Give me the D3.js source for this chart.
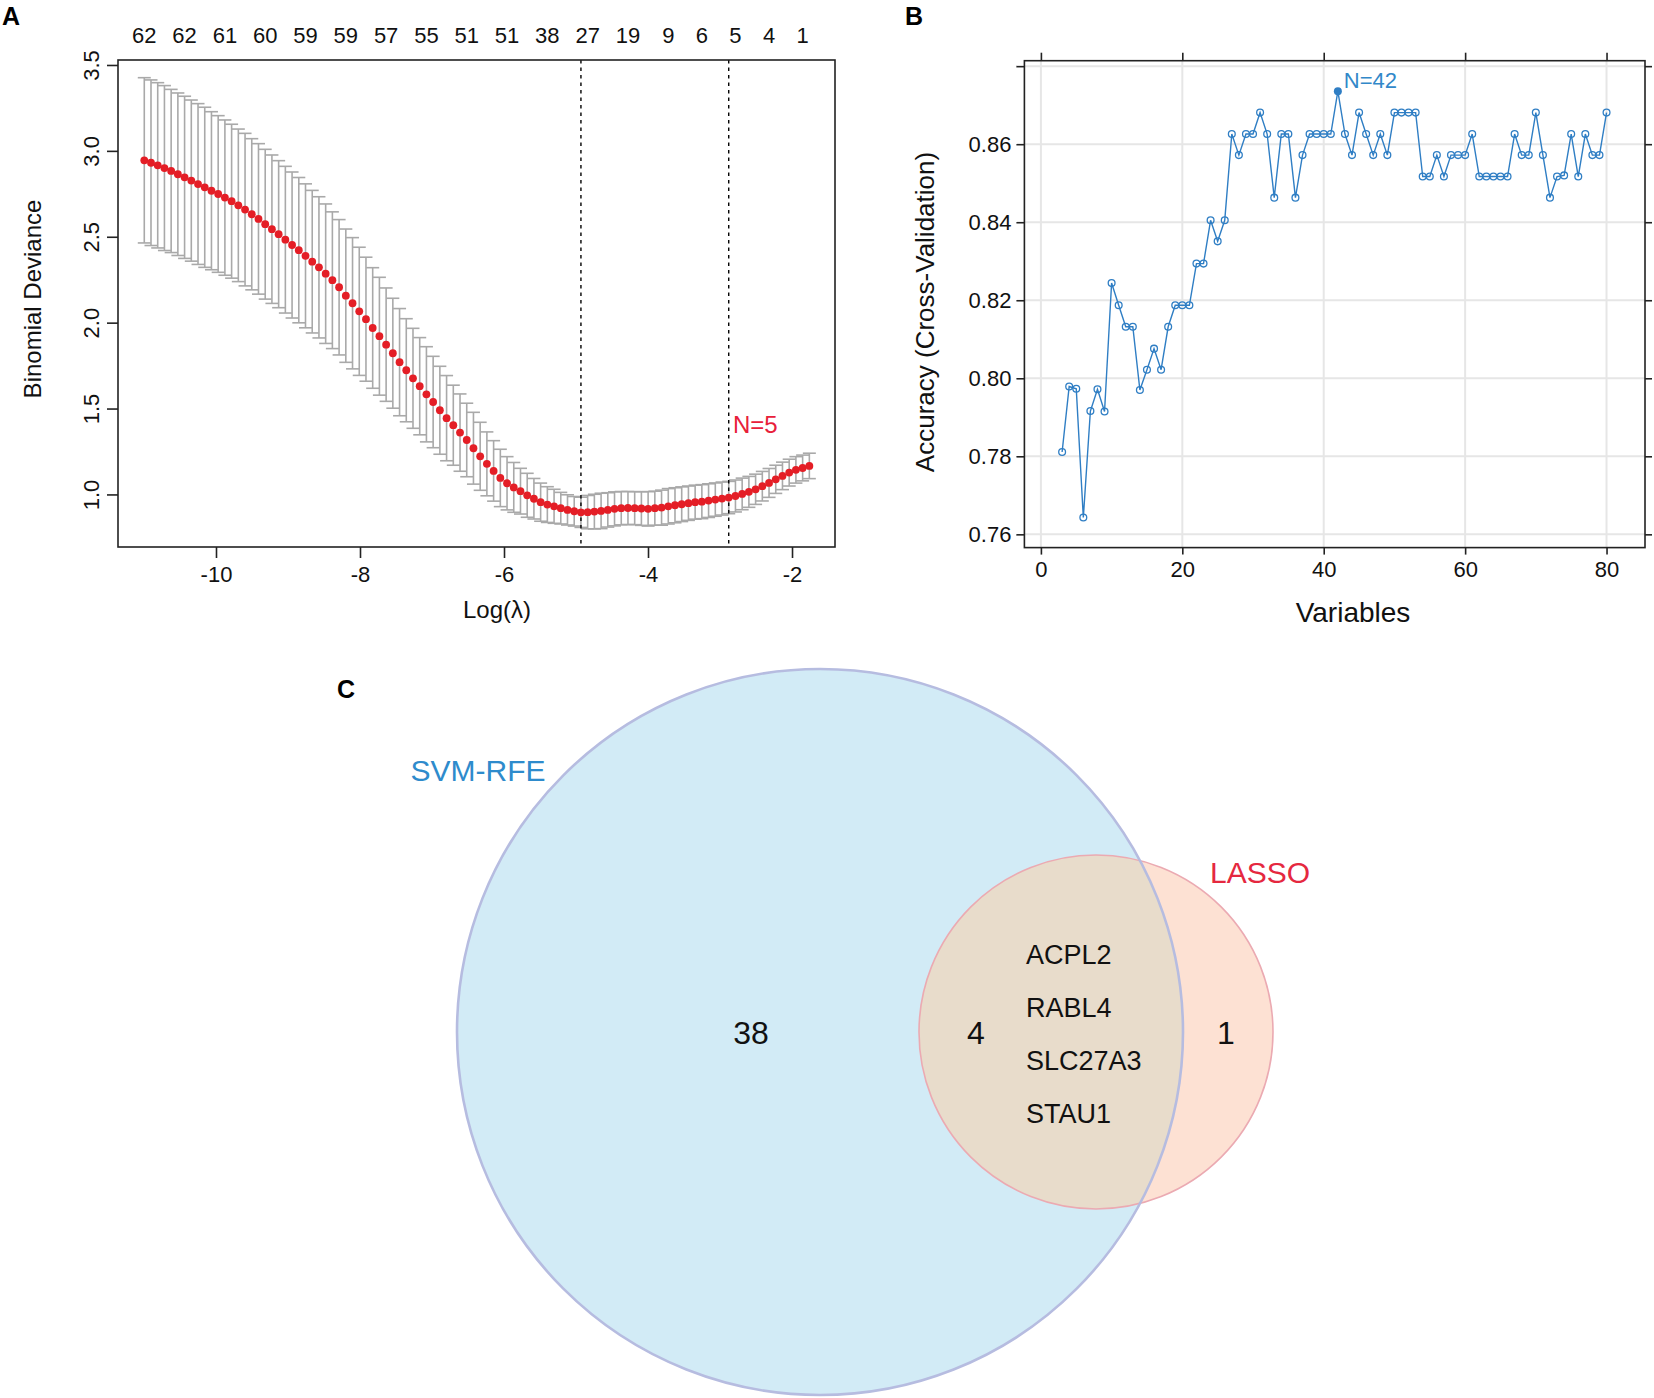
<!DOCTYPE html>
<html>
<head>
<meta charset="utf-8">
<title>LASSO / SVM-RFE / Venn</title>
<script src="https://cdn.jsdelivr.net/npm/d3@7"></script>
<style>
  body { margin: 0; background: #fff; }
  text { font-family: "Liberation Sans", Arial, Helvetica, sans-serif; }
</style>
</head>
<body>
<script>
// ---- panel A: cv.glmnet curve (100 lambdas) ----
const lambdaStart = -10.996;   // log(lambda) of first fit
const lambdaStep = 0.0933;     // spacing of the log(lambda) grid
const cvm = [
  2.945, 2.931, 2.916, 2.900, 2.883, 2.864, 2.846, 2.827, 2.807, 2.788,
  2.768, 2.749, 2.728, 2.707, 2.683, 2.658, 2.631, 2.604, 2.573, 2.544,
  2.515, 2.483, 2.452, 2.422, 2.389, 2.355, 2.322, 2.285, 2.247, 2.206,
  2.157, 2.113, 2.066, 2.020, 1.969, 1.921, 1.872, 1.822, 1.770, 1.723,
  1.676, 1.630, 1.583, 1.538, 1.490, 1.444, 1.403, 1.360, 1.317, 1.269,
  1.222, 1.178, 1.137, 1.096, 1.065, 1.041, 1.019, 0.995, 0.975, 0.955,
  0.941, 0.931, 0.920, 0.910, 0.902, 0.896, 0.897, 0.900, 0.904, 0.910,
  0.916, 0.920, 0.921, 0.920, 0.918, 0.916, 0.920, 0.923, 0.931, 0.937,
  0.943, 0.949, 0.955, 0.958, 0.964, 0.970, 0.976, 0.982, 0.991, 1.003,
  1.015, 1.030, 1.048, 1.067, 1.088, 1.108, 1.127, 1.143, 1.154, 1.166];
const cvsd = [
  0.481, 0.482, 0.481, 0.480, 0.475, 0.473, 0.472, 0.469, 0.468, 0.466,
  0.460, 0.456, 0.452, 0.448, 0.444, 0.444, 0.440, 0.438, 0.436, 0.432,
  0.428, 0.427, 0.425, 0.423, 0.419, 0.415, 0.411, 0.406, 0.398, 0.394,
  0.388, 0.382, 0.373, 0.361, 0.351, 0.343, 0.330, 0.320, 0.312, 0.300,
  0.291, 0.283, 0.277, 0.266, 0.256, 0.248, 0.233, 0.225, 0.214, 0.209,
  0.198, 0.186, 0.176, 0.167, 0.155, 0.145, 0.133, 0.128, 0.118, 0.111,
  0.104, 0.099, 0.092, 0.088, 0.086, 0.088, 0.097, 0.101, 0.103, 0.100,
  0.099, 0.097, 0.096, 0.096, 0.098, 0.100, 0.099, 0.102, 0.103, 0.102,
  0.101, 0.100, 0.099, 0.099, 0.098, 0.097, 0.096, 0.094, 0.093, 0.092,
  0.090, 0.088, 0.086, 0.084, 0.082, 0.080, 0.078, 0.077, 0.075, 0.074];
// number of nonzero coefficients shown on top axis (index into lambda grid, 1-based)
const nzeroIdx = [1, 7, 13, 19, 25, 31, 37, 43, 49, 55, 61, 67, 73, 79, 84, 89, 94, 99];
const nzeroLab = [62, 62, 61, 60, 59, 59, 57, 55, 51, 51, 38, 27, 19, 9, 6, 5, 4, 1];
const idxMin = 66, idx1se = 88;
const ticksA_x = [-10, -8, -6, -4, -2];
const ticksA_y = [1.0, 1.5, 2.0, 2.5, 3.0, 3.5];

// ---- panel B: SVM-RFE accuracy ----
const nVars = d3.range(3, 81);
const accuracy = [
  0.7811, 0.7979, 0.7973, 0.7643, 0.7916, 0.7972, 0.7915, 0.8244,
  0.8187, 0.8132, 0.8132, 0.7970, 0.8022, 0.8076, 0.8022, 0.8132, 0.8187, 0.8187,
  0.8187, 0.8294, 0.8294, 0.8405, 0.8351, 0.8405, 0.8626, 0.8572, 0.8626, 0.8626,
  0.8681, 0.8626, 0.8463, 0.8626, 0.8626, 0.8463, 0.8572, 0.8626, 0.8626, 0.8626,
  0.8626, 0.8736, 0.8626, 0.8572, 0.8681, 0.8626, 0.8572, 0.8626, 0.8572, 0.8681,
  0.8681, 0.8681, 0.8681, 0.8517, 0.8517, 0.8572, 0.8517, 0.8572, 0.8572, 0.8572,
  0.8626, 0.8517, 0.8517, 0.8517, 0.8517, 0.8517, 0.8626, 0.8572, 0.8572, 0.8681,
  0.8572, 0.8463, 0.8517, 0.8520, 0.8626, 0.8517, 0.8626, 0.8572, 0.8572, 0.8681];
const bestN = 42;
const ticksB_x = [0, 20, 40, 60, 80];
const ticksB_y = [0.76, 0.78, 0.80, 0.82, 0.84, 0.86];
const gridB_y = [0.76, 0.78, 0.80, 0.82, 0.84, 0.86, 0.88];

// ---- panel C: Venn ----
const setNames = ["SVM-RFE", "LASSO"];
const setCounts = [38, 4, 1]; // only SVM, both, only LASSO
const sharedGenes = ["ACPL2", "RABL4", "SLC27A3", "STAU1"];

const W = 1654, H = 1398;
const svg = d3.select("body").append("svg")
  .attr("width", W).attr("height", H);
svg.append("rect").attr("width", W).attr("height", H).attr("fill", "#fff");

const fmt1 = d3.format(".1f");
const tickFont = 22;

// ================= Panel A =================
const boxA = { l: 118, r: 835, t: 60, b: 547 };
const xA = d3.scaleLinear().domain([-11.361, -1.403]).range([boxA.l, boxA.r]);
const yA = d3.scaleLinear().domain([0.694, 3.529]).range([boxA.b, boxA.t]);
const logLam = cvm.map((d, i) => lambdaStart + i * lambdaStep);
const ptsA = cvm.map((d, i) => ({ x: logLam[i], m: d, s: cvsd[i] }));

const gA = svg.append("g");

// error bars
const capW = 6.5;
const eb = gA.append("g").attr("stroke", "#a9a9a9").attr("stroke-width", 1.6);
ptsA.forEach(p => {
  const cx = xA(p.x);
  eb.append("line").attr("x1", cx).attr("x2", cx)
    .attr("y1", yA(p.m + p.s)).attr("y2", yA(p.m - p.s));
  eb.append("line").attr("x1", cx - capW).attr("x2", cx + capW)
    .attr("y1", yA(p.m + p.s)).attr("y2", yA(p.m + p.s));
  eb.append("line").attr("x1", cx - capW).attr("x2", cx + capW)
    .attr("y1", yA(p.m - p.s)).attr("y2", yA(p.m - p.s));
});

// dashed lines at lambda.min and lambda.1se
[idxMin, idx1se].forEach(k => {
  gA.append("line")
    .attr("x1", xA(logLam[k - 1])).attr("x2", xA(logLam[k - 1]))
    .attr("y1", boxA.t).attr("y2", boxA.b)
    .attr("stroke", "#000").attr("stroke-width", 1.4)
    .attr("stroke-dasharray", "3.5,4");
});

// red points
gA.append("g").selectAll("circle").data(ptsA).enter().append("circle")
  .attr("cx", d => xA(d.x)).attr("cy", d => yA(d.m))
  .attr("r", 3.9).attr("fill", "#e41e26");

// box
gA.append("rect").attr("x", boxA.l).attr("y", boxA.t)
  .attr("width", boxA.r - boxA.l).attr("height", boxA.b - boxA.t)
  .attr("fill", "none").attr("stroke", "#222").attr("stroke-width", 1.6);

// bottom axis
const axA_x = gA.append("g").attr("transform", `translate(0,${boxA.b})`)
  .call(d3.axisBottom(xA).tickValues(ticksA_x).tickSize(11).tickPadding(8)
    .tickFormat(d => String(d)));
axA_x.select(".domain").remove();
axA_x.selectAll("line").attr("stroke", "#222").attr("stroke-width", 1.6);
axA_x.selectAll("text").attr("font-size", tickFont).attr("fill", "#111")
  .attr("font-family", "Liberation Sans, Arial, sans-serif");

// left axis with rotated labels
const axA_y = gA.append("g").attr("transform", `translate(${boxA.l},0)`)
  .call(d3.axisLeft(yA).tickValues(ticksA_y).tickSize(11).tickFormat(fmt1));
axA_y.select(".domain").remove();
axA_y.selectAll("line").attr("stroke", "#222").attr("stroke-width", 1.6);
axA_y.selectAll("text")
  .attr("x", null).attr("dy", null)
  .attr("text-anchor", "middle")
  .attr("transform", "translate(-19,0) rotate(-90)")
  .attr("font-size", tickFont).attr("fill", "#111")
  .attr("font-family", "Liberation Sans, Arial, sans-serif");

// top labels (number of nonzero coefficients)
gA.append("g").selectAll("text").data(nzeroIdx).enter().append("text")
  .attr("x", d => xA(logLam[d - 1])).attr("y", 43)
  .attr("text-anchor", "middle").attr("font-size", tickFont).attr("fill", "#111")
  .text((d, i) => nzeroLab[i]);

gA.append("text").attr("transform", "translate(41,299) rotate(-90)")
  .attr("text-anchor", "middle").attr("font-size", 24).attr("fill", "#111")
  .text("Binomial Deviance");
gA.append("text").attr("x", 497).attr("y", 618)
  .attr("text-anchor", "middle").attr("font-size", 24).attr("fill", "#111")
  .text("Log(λ)");
gA.append("text").attr("x", 733).attr("y", 433)
  .attr("font-size", 24).attr("fill", "#e8203a").text("N=" + nzeroLab[15]);

// ================= Panel B =================
const boxB = { l: 1024.4, r: 1645, t: 60.7, b: 547.6 };
const xB = d3.scaleLinear().domain([-2.334, 85.44]).range([boxB.l, boxB.r]);
const yB = d3.scaleLinear().domain([0.7566, 0.8814]).range([boxB.b, boxB.t]);
const ptsB = nVars.map((n, i) => ({ n: n, a: accuracy[i] }));
const blue = "#2f7ec4";

const gB = svg.append("g");
// grid
gB.append("g").selectAll("line").data(ticksB_x).enter().append("line")
  .attr("x1", d => xB(d)).attr("x2", d => xB(d))
  .attr("y1", boxB.t).attr("y2", boxB.b)
  .attr("stroke", "#e6e6e6").attr("stroke-width", 2);
gB.append("g").selectAll("line").data(gridB_y).enter().append("line")
  .attr("y1", d => yB(d)).attr("y2", d => yB(d))
  .attr("x1", boxB.l).attr("x2", boxB.r)
  .attr("stroke", "#e6e6e6").attr("stroke-width", 2);

// line + points
gB.append("path").datum(ptsB)
  .attr("d", d3.line().x(d => xB(d.n)).y(d => yB(d.a)))
  .attr("fill", "none").attr("stroke", blue).attr("stroke-width", 1.4);
gB.append("g").selectAll("circle").data(ptsB.filter(d => d.n !== bestN)).enter()
  .append("circle")
  .attr("cx", d => xB(d.n)).attr("cy", d => yB(d.a)).attr("r", 3.4)
  .attr("fill", "none").attr("stroke", blue).attr("stroke-width", 1.3);
const best = ptsB.find(d => d.n === bestN);
gB.append("circle").attr("cx", xB(best.n)).attr("cy", yB(best.a))
  .attr("r", 4).attr("fill", blue);
gB.append("text").attr("x", xB(best.n) + 6).attr("y", yB(best.a) - 3)
  .attr("font-size", 22).attr("fill", "#3288c9").text("N=" + bestN);

// box
gB.append("rect").attr("x", boxB.l).attr("y", boxB.t)
  .attr("width", boxB.r - boxB.l).attr("height", boxB.b - boxB.t)
  .attr("fill", "none").attr("stroke", "#222").attr("stroke-width", 1.6);

// axes
const axB_b = gB.append("g").attr("transform", `translate(0,${boxB.b})`)
  .call(d3.axisBottom(xB).tickValues(ticksB_x).tickSize(7).tickPadding(7));
const axB_t = gB.append("g").attr("transform", `translate(0,${boxB.t})`)
  .call(d3.axisTop(xB).tickValues(ticksB_x).tickSize(8).tickFormat(""));
const axB_l = gB.append("g").attr("transform", `translate(${boxB.l},0)`)
  .call(d3.axisLeft(yB).tickValues(ticksB_y).tickSize(8).tickPadding(5)
    .tickFormat(d3.format(".2f")));
const axB_l2 = gB.append("g").attr("transform", `translate(${boxB.l},0)`)
  .call(d3.axisLeft(yB).tickValues([0.88]).tickSize(8).tickFormat(""));
const axB_r = gB.append("g").attr("transform", `translate(${boxB.r},0)`)
  .call(d3.axisRight(yB).tickValues(gridB_y).tickSize(7).tickFormat(""));
[axB_b, axB_t, axB_l, axB_l2, axB_r].forEach(a => {
  a.select(".domain").remove();
  a.selectAll("line").attr("stroke", "#222").attr("stroke-width", 1.6);
  a.selectAll("text").attr("font-size", tickFont).attr("fill", "#111")
    .attr("font-family", "Liberation Sans, Arial, sans-serif");
});

gB.append("text").attr("transform", "translate(934,312) rotate(-90)")
  .attr("text-anchor", "middle").attr("font-size", 26).attr("fill", "#111")
  .text("Accuracy (Cross-Validation)");
gB.append("text").attr("x", 1353).attr("y", 622)
  .attr("text-anchor", "middle").attr("font-size", 28).attr("fill", "#111")
  .text("Variables");

// ================= Panel C =================
const big = { cx: 820, cy: 1032, r: 363 };
const small = { cx: 1096, cy: 1032, r: 177 };
const gC = svg.append("g");
const defs = svg.append("defs");
defs.append("clipPath").attr("id", "clipBig").append("circle")
  .attr("cx", big.cx).attr("cy", big.cy).attr("r", big.r);

gC.append("circle").attr("cx", big.cx).attr("cy", big.cy).attr("r", big.r)
  .attr("fill", "#d2ebf6");
gC.append("circle").attr("cx", small.cx).attr("cy", small.cy).attr("r", small.r)
  .attr("fill", "#fde1d3");
gC.append("circle").attr("cx", small.cx).attr("cy", small.cy).attr("r", small.r)
  .attr("clip-path", "url(#clipBig)").attr("fill", "#e8dccb");
gC.append("circle").attr("cx", small.cx).attr("cy", small.cy).attr("r", small.r)
  .attr("fill", "none").attr("stroke", "#ebaab2").attr("stroke-width", 1.6);
gC.append("circle").attr("cx", big.cx).attr("cy", big.cy).attr("r", big.r)
  .attr("fill", "none").attr("stroke", "#b6bce0").attr("stroke-width", 2.6);

gC.append("text").attr("x", 478).attr("y", 781).attr("text-anchor", "middle")
  .attr("font-size", 30).attr("fill", "#2e8bcc").text(setNames[0]);
gC.append("text").attr("x", 1260).attr("y", 883).attr("text-anchor", "middle")
  .attr("font-size", 30).attr("fill", "#e5283f").text(setNames[1]);

const countX = [751, 976, 1226];
gC.append("g").selectAll("text").data(setCounts).enter().append("text")
  .attr("x", (d, i) => countX[i]).attr("y", 1044)
  .attr("text-anchor", "middle").attr("font-size", 32).attr("fill", "#111")
  .text(d => d);

gC.append("g").selectAll("text").data(sharedGenes).enter().append("text")
  .attr("x", 1026).attr("y", (d, i) => 964 + i * 53)
  .attr("font-size", 27).attr("fill", "#111").text(d => d);

// panel letters
svg.append("text").attr("x", 2).attr("y", 25).attr("font-size", 25)
  .attr("font-weight", "bold").text("A");
svg.append("text").attr("x", 905).attr("y", 25).attr("font-size", 25)
  .attr("font-weight", "bold").text("B");
svg.append("text").attr("x", 337).attr("y", 698).attr("font-size", 25)
  .attr("font-weight", "bold").text("C");
</script>
</body>
</html>
